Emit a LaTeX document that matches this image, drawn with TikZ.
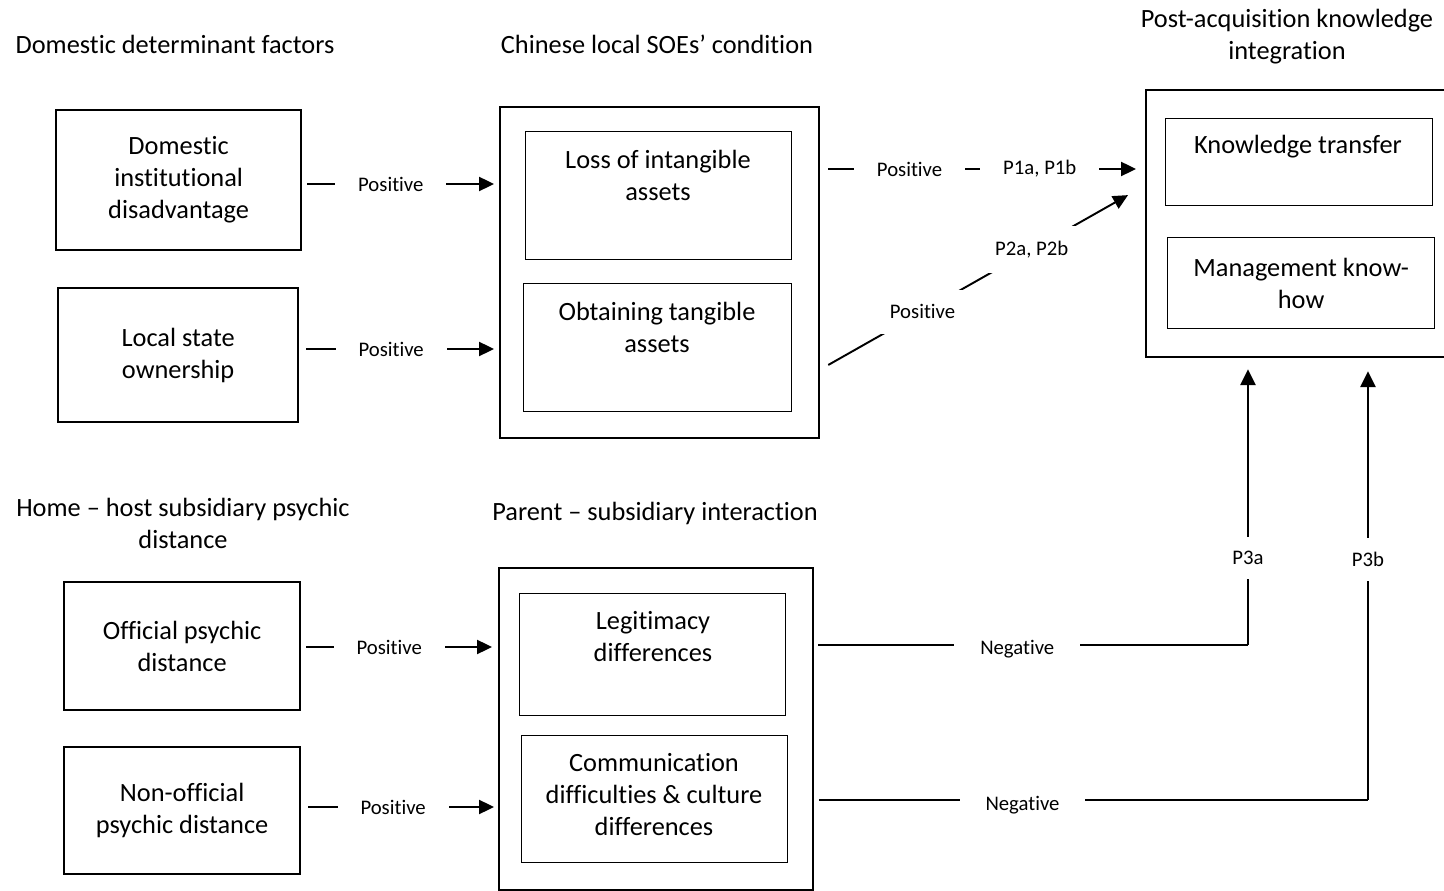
\documentclass[tikz,border=0pt]{standalone}
\usepackage{fontspec}
\setmainfont{Carlito}[Ligatures={TeX,NoCommon}]
\usetikzlibrary{arrows.meta,positioning}

\tikzset{
  outbox/.style={draw, line width=1.3pt, inner sep=0pt, anchor=north west},
  inbox/.style={draw, line width=0.7pt, inner sep=0pt, anchor=north west},
  txt/.style={align=center, font=\fontsize{15}{18.2}\selectfont, inner sep=0pt},
  lbl/.style={fill=white, font=\fontsize{11.8}{14}\selectfont, inner xsep=13pt, inner ysep=2pt},
  dlbl/.style={lbl, inner xsep=8pt, inner ysep=8.4pt},
  vlbl/.style={lbl, inner xsep=2pt, inner ysep=8pt},
  arr/.style={line width=1.1pt, -{Triangle[length=8.5pt,width=8pt]}},
  varr/.style={line width=1.4pt, -{Triangle[length=9pt,width=8.5pt]}},
  neg/.style={line width=0.6pt},
}

\begin{document}
\begin{tikzpicture}[x=0.02cm, y=-0.02cm]
\def\u{0.02cm}
\useasboundingbox (0,0) rectangle (1444,891);

%% headings
\node[txt] (hdom) at (175,44) {Domestic determinant factors};
\node[txt] (hsoe) at (657,44) {Chinese local SOEs' condition};
\node[txt] (hkin) at (1287,37) {Post-acquisition knowledge\\integration};
\node[txt] (hpsy) at (183,523) {Home -- host subsidiary psychic\\distance};
\node[txt] (hpar) at (655,513) {Parent -- subsidiary interaction};

%% left boxes
\node[outbox, txt, minimum width=245*\u, minimum height=140*\u] (dida) at (55,109) {Domestic\\institutional\\disadvantage};
\node[outbox, txt, minimum width=240*\u, minimum height=134*\u] (lso) at (57,287) {Local state\\ownership};
\node[outbox, txt, minimum width=236*\u, minimum height=128*\u] (opd) at (63,581) {Official psychic\\distance};
\node[outbox, txt, minimum width=236*\u, minimum height=127*\u] (nopd) at (63,746) {Non-official\\psychic distance};

%% SOEs' condition
\node[outbox, minimum width=319*\u, minimum height=331*\u] (soe) at (499,106) {};
\node[inbox, minimum width=266*\u, minimum height=128*\u] (lia) at (525,131) {};
\node[txt] (liat) at (658,175) {Loss of intangible\\assets};
\node[inbox, minimum width=268*\u, minimum height=128*\u] (ota) at (523,283) {};
\node[txt] (otat) at (657,327) {Obtaining tangible\\assets};

%% parent - subsidiary
\node[outbox, minimum width=314*\u, minimum height=322*\u] (psi) at (498,567) {};
\node[inbox, minimum width=266*\u, minimum height=122*\u] (lgd) at (519,593) {};
\node[txt] (lgdt) at (653,637) {Legitimacy\\differences};
\node[inbox, minimum width=266*\u, minimum height=127*\u] (cdc) at (521,735) {};
\node[txt] (cdct) at (654,795) {Communication\\difficulties \& culture\\differences};

%% knowledge integration
\node[outbox, minimum width=302*\u, minimum height=267*\u] (kint) at (1145,89) {};
\node[inbox, minimum width=267*\u, minimum height=87*\u] (kt) at (1165,118) {};
\node[txt] (ktt) at (1298,147) {Knowledge transfer};
\node[inbox, txt, minimum width=267*\u, minimum height=91*\u] (mkh) at (1167,237) {Management know-\\how};

%% positive arrows
\draw[arr, shorten <=5*\u, shorten >=5*\u] (dida.east |- 0,184) -- node[lbl, pos=.45] (p1) {Positive} (soe.west |- 0,184);
\draw[arr, shorten <=7*\u, shorten >=5*\u] (lso.east |- 0,349) -- node[lbl, pos=.46] (p2) {Positive} (soe.west |- 0,349);
\draw[arr, shorten <=5*\u, shorten >=6*\u] (opd.east |- 0,647) -- node[lbl, pos=.447] (p3) {Positive} (psi.west |- 0,647);
\draw[arr, shorten <=7*\u, shorten >=4*\u] (nopd.east |- 0,807) -- node[lbl, pos=.467] (p4) {Positive} (psi.west |- 0,807);

\draw[arr, shorten <=8*\u, shorten >=9*\u] (soe.east |- 0,169) -- node[lbl, pos=.275] (p5) {Positive}
  node[lbl, pos=.676] (p1ab) {P1a, P1b} (kint.west |- 0,169);
\draw[arr, shorten <=9.2*\u, shorten >=19.5*\u] (soe.east |- 0,369.5) -- node[dlbl, pos=.315] (p6) {Positive}
  node[dlbl, pos=.651] (p2ab) {P2a, P2b} (kint.west |- 0,185.5);

%% negative paths
\coordinate (c3a) at (1248,645);
\coordinate (c3b) at (1368,800);
\draw[neg, shorten <=4*\u] (psi.east |- c3a) -- node[lbl, pos=.468, inner xsep=14.7pt, yshift=-2.5pt] (n1) {Negative} (c3a);
\draw[neg, shorten <=5*\u] (psi.east |- c3b) -- node[lbl, pos=.376, inner xsep=14.7pt, yshift=-3pt] (n2) {Negative} (c3b);
\draw[varr, shorten >=11*\u] (c3a) -- node[vlbl, pos=.304] (p3a) {P3a} (kint.south -| c3a);
\draw[varr, shorten >=13*\u] (c3b) -- node[vlbl, pos=.545] (p3b) {P3b} (kint.south -| c3b);

\end{tikzpicture}
\end{document}
